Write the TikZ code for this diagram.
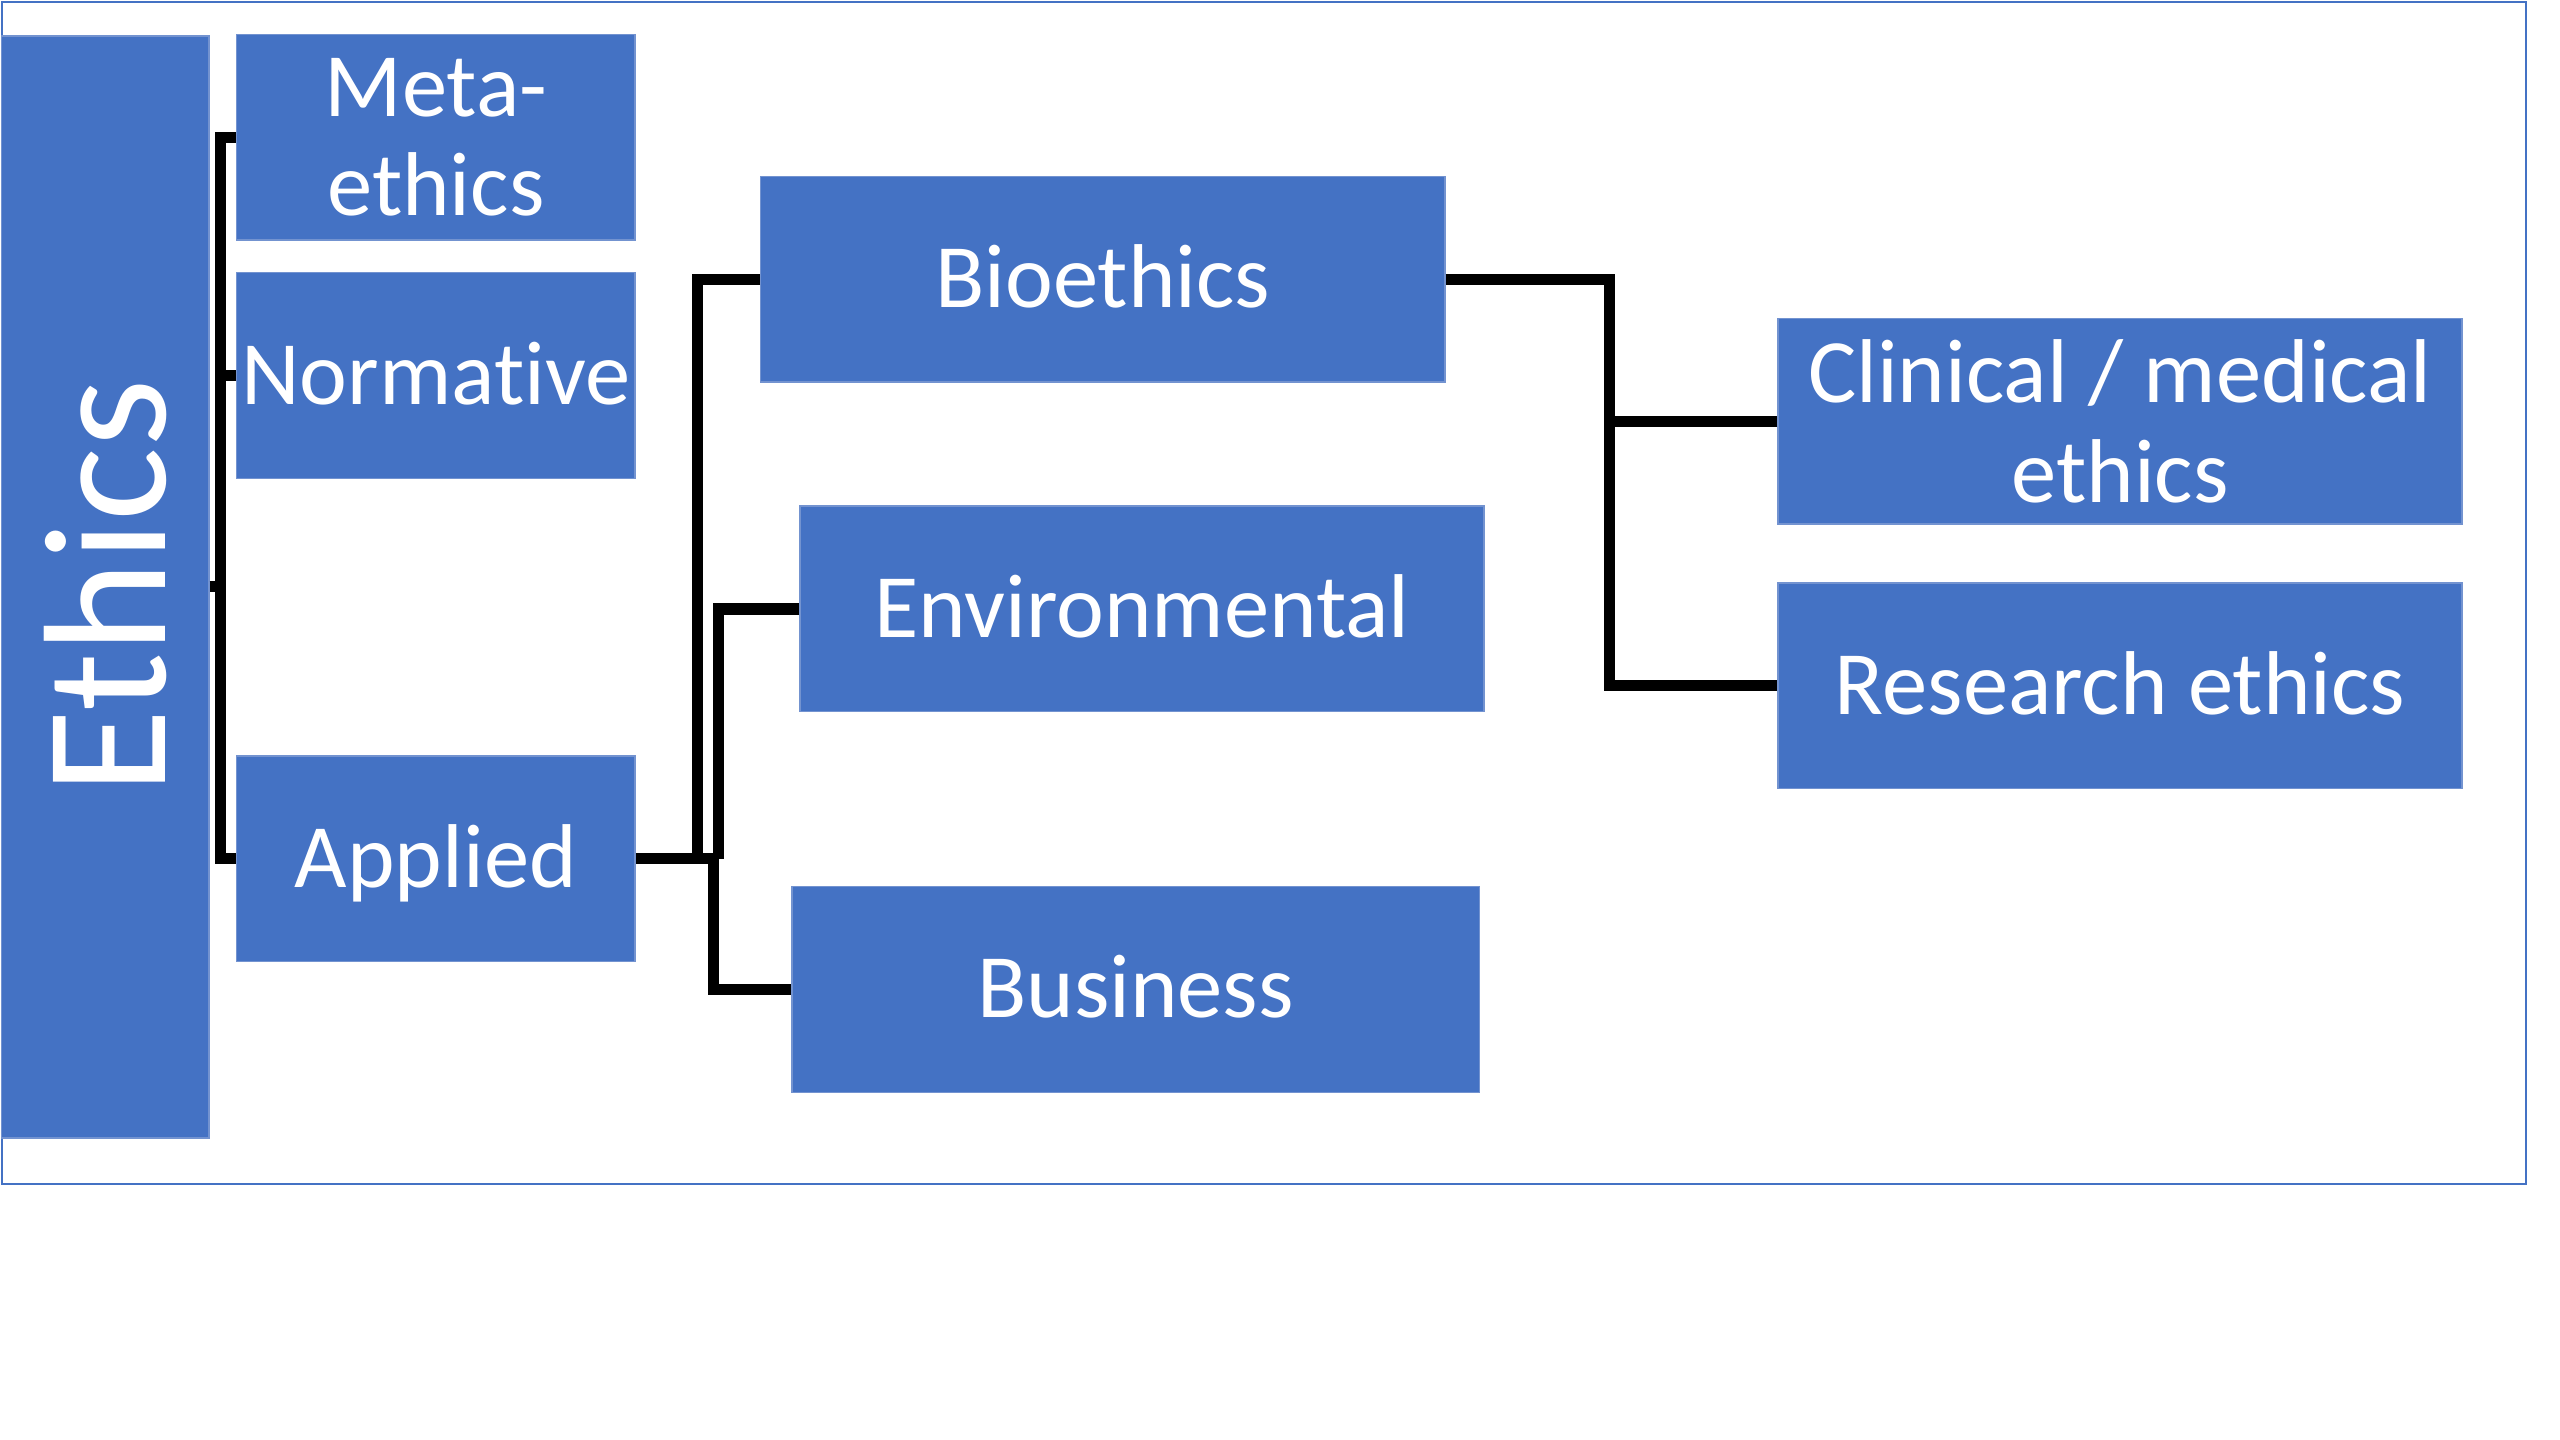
\documentclass[tikz,border=0pt]{standalone}
\usepackage{fontspec}
\setmainfont{Carlito}[Ligatures=NoCommon]
\definecolor{boxblue}{HTML}{4472C4}
\definecolor{boxedge}{HTML}{7393D0}
\tikzset{
  topic/.style={draw=boxedge,line width=0.8pt,fill=boxblue,text=white,inner sep=0pt,
    align=center,minimum width=244pt,minimum height=126pt,font=\fontsize{55.5}{61}\selectfont},
  wide/.style={topic,minimum width=419pt},
  oneline/.style={text height=40pt,text depth=5pt},
  link/.style={draw=black,line width=6.8pt}
}

\begin{document}
\begin{tikzpicture}[x=1pt,y=-1pt]
  \useasboundingbox (0,0) rectangle (1568,882);
  \draw[boxblue,line width=1.2pt] (1,1) rectangle (1547,725);
  % branches of ethics
  \node[topic,minimum width=127pt,minimum height=675pt,font=\fontsize{107}{120}\selectfont] (ethics) at (64.5,359.5) {\rotatebox{90}{Ethics}};
  \node[topic] (meta) at (267,84) {Meta-\\ethics};
  \node[topic,oneline] (normative) at (267,230) {Normative};
  \node[topic,oneline] (applied) at (267,526) {Applied};
  % applied ethics
  \node[wide,oneline] (bioethics) at (675.5,171) {Bioethics};
  \node[wide,oneline] (environmental) at (699.5,373) {Environmental};
  \node[wide,oneline,minimum width=421pt] (business) at (695.5,606) {Business};
  % bioethics
  \node[wide] (clinical) at (1298.5,258) {Clinical / medical\\ethics};
  \node[wide,oneline] (research) at (1298.5,420) {Research ethics};
  \coordinate (ethbar) at (135,359);
  \coordinate (biobar) at (427,526);
  \coordinate (envbar) at (440,526);
  \coordinate (busbar) at (437,526);
  \coordinate (biosplit) at (986,258);
  \draw[link] (meta.west) -| (ethbar) |- (applied.west);
  \draw[link] (normative.west) -- (normative.west -| ethbar);
  \draw[link] (ethics.east) -- (ethics.east -| ethbar);
  \draw[link] (applied.east) -- (envbar);
  \draw[link] (bioethics.west) -| (biobar);
  \draw[link] (environmental.west) -| (envbar);
  \draw[link] (business.west) -| (busbar);
  \draw[link] (bioethics.east) -| (biosplit) |- (research.west);
  \draw[link] (clinical.west) -- (clinical.west -| biosplit);
\end{tikzpicture}
\end{document}
